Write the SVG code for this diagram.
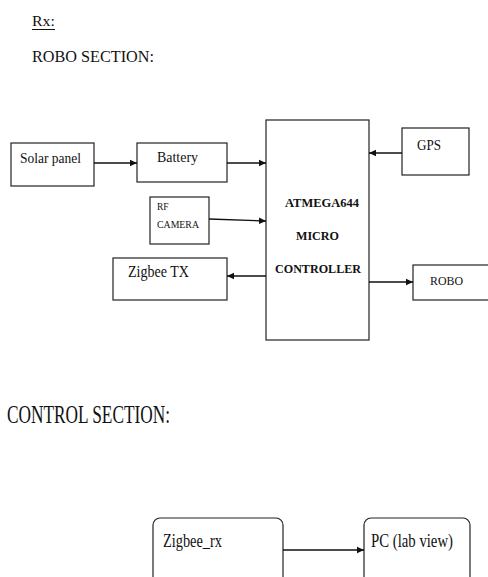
<svg xmlns="http://www.w3.org/2000/svg" width="488" height="577" viewBox="0 0 488 577">
<style>
text{font-family:"Liberation Serif","Times New Roman",serif;fill:#111}
.b{fill:#fff;stroke:#222;stroke-width:1.2}
.c{stroke:#111;stroke-width:1.3;fill:none}
.bold{font-weight:bold}
</style>
<defs>
<marker id="ah" markerWidth="8" markerHeight="8" refX="7" refY="4" orient="auto" markerUnits="userSpaceOnUse">
<path d="M0,0.8 L7,4 L0,7.2 Z" fill="#111"/>
</marker>
</defs>
<rect width="488" height="577" fill="#fff"/>
<g id="titles">
<text x="32" y="26" font-size="15" textLength="23" lengthAdjust="spacingAndGlyphs">Rx:</text>
<line x1="32" y1="29.5" x2="55" y2="29.5" stroke="#111" stroke-width="1"/>
<text x="32" y="62" font-size="17" textLength="122" lengthAdjust="spacingAndGlyphs">ROBO SECTION:</text>
<text x="7" y="423" font-size="25" textLength="163" lengthAdjust="spacingAndGlyphs">CONTROL SECTION:</text>
</g>
<g id="solar">
<rect class="b" x="11" y="143" width="83" height="43"/>
<text x="20" y="163" font-size="14" textLength="61" lengthAdjust="spacingAndGlyphs">Solar panel</text>
</g>
<g id="battery">
<rect class="b" x="137" y="143" width="90" height="39"/>
<text x="157" y="162" font-size="14" textLength="41" lengthAdjust="spacingAndGlyphs">Battery</text>
</g>
<g id="rfcamera">
<rect class="b" x="150" y="197" width="59" height="47"/>
<text x="157" y="210" font-size="9.5">RF</text>
<text x="157" y="228" font-size="9.5" textLength="42" lengthAdjust="spacingAndGlyphs">CAMERA</text>
</g>
<g id="zigbeetx">
<rect class="b" x="113" y="258" width="114" height="42"/>
<text x="128" y="277" font-size="17" textLength="61" lengthAdjust="spacingAndGlyphs">Zigbee TX</text>
</g>
<g id="mcu">
<rect class="b" x="266" y="120" width="103" height="220"/>
<text class="bold" x="285" y="207" font-size="12.5" textLength="74" lengthAdjust="spacingAndGlyphs">ATMEGA644</text>
<text class="bold" x="296" y="240" font-size="12.5" textLength="43" lengthAdjust="spacingAndGlyphs">MICRO</text>
<text class="bold" x="275" y="273" font-size="12.5" textLength="86" lengthAdjust="spacingAndGlyphs">CONTROLLER</text>
</g>
<g id="gps">
<rect class="b" x="402" y="128" width="67" height="47"/>
<text x="417" y="150" font-size="14" textLength="24" lengthAdjust="spacingAndGlyphs">GPS</text>
</g>
<g id="robo">
<rect class="b" x="413" y="265" width="80" height="35"/>
<text x="430" y="285" font-size="13" textLength="33" lengthAdjust="spacingAndGlyphs">ROBO</text>
</g>
<g id="zigbeerx">
<rect class="b" x="153" y="518" width="130" height="70" rx="7"/>
<text x="163" y="547" font-size="19" textLength="59" lengthAdjust="spacingAndGlyphs">Zigbee_rx</text>
</g>
<g id="pc">
<rect class="b" x="364" y="518" width="106" height="70" rx="7"/>
<text x="371" y="547" font-size="19" textLength="82" lengthAdjust="spacingAndGlyphs">PC (lab view)</text>
</g>
<g id="connectors">
<line class="c" x1="94" y1="163" x2="137" y2="163" marker-end="url(#ah)"/>
<line class="c" x1="227" y1="163" x2="266" y2="163" marker-end="url(#ah)"/>
<line class="c" x1="209" y1="219" x2="266" y2="221" marker-end="url(#ah)"/>
<line class="c" x1="266" y1="276" x2="227" y2="276" marker-end="url(#ah)"/>
<line class="c" x1="402" y1="153" x2="369" y2="153" marker-end="url(#ah)"/>
<line class="c" x1="369" y1="282" x2="413" y2="282" marker-end="url(#ah)"/>
<line class="c" x1="283" y1="550" x2="364" y2="550" marker-end="url(#ah)"/>
</g>
</svg>
